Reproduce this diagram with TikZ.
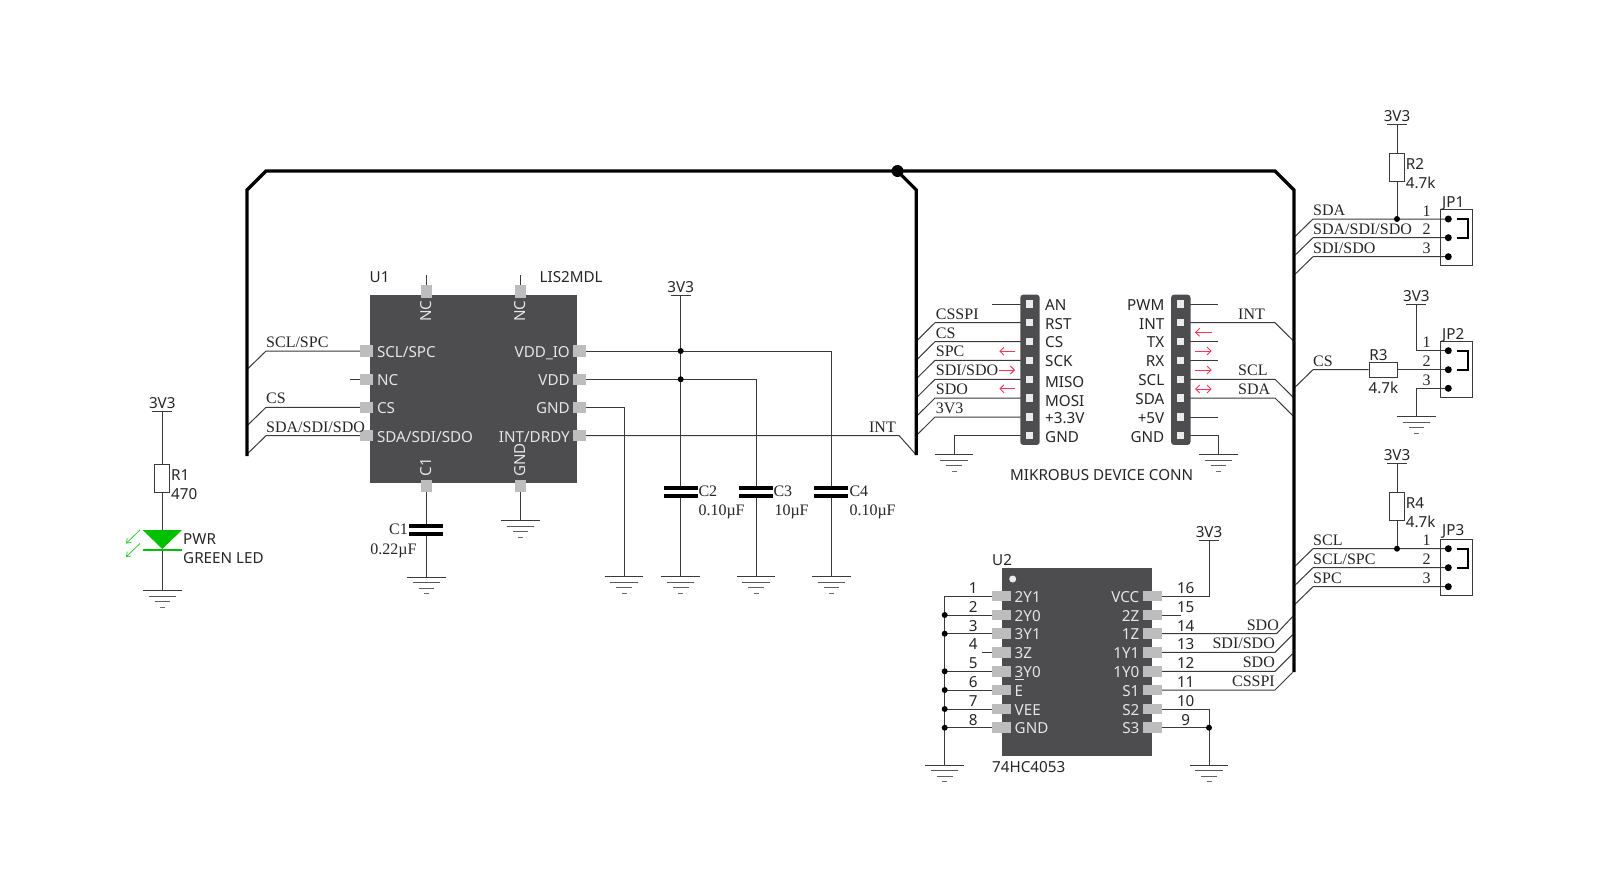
\documentclass[tikz,border=0pt]{standalone}
\usepackage{fontspec}
\setmainfont{Noto Sans}
\newfontfamily\serfont{Liberation Serif}
\usetikzlibrary{arrows.meta,backgrounds}
\definecolor{chipc}{HTML}{4D4D4F}
\definecolor{pinc}{HTML}{BDBDBD}
\definecolor{wirec}{HTML}{3A3A3A}
\definecolor{redc}{HTML}{FF3355}
\definecolor{ledc}{HTML}{00C000}
\tikzset{
  wire/.style={draw=wirec,line width=1pt},
  bus/.style={draw=black,line width=3.2pt,line join=miter},
  chip/.style={fill=chipc,draw=none,inner sep=0pt,rectangle},
  vpin/.style={fill=pinc,draw=none,minimum width=11pt,minimum height=12.8pt,inner sep=0pt},
  hpin/.style={fill=pinc,draw=none,minimum width=13pt,minimum height=11.5pt,inner sep=0pt},
  u2pin/.style={fill=pinc,draw=none,minimum width=18.4pt,minimum height=10.5pt,inner sep=0pt},
  sans/.style={inner sep=0pt,text=black!85,font=\fontsize{15.2}{15.2}\selectfont},
  ins/.style={inner sep=0pt,text=white!90!black,font=\fontsize{15.2}{15.2}\selectfont},
  ser/.style={inner sep=0pt,text=black!85,anchor=base west,font=\serfont\fontsize{16}{16}\selectfont},
  jdot/.style={circle,fill=black,inner sep=0pt,minimum size=7pt},
  sdot/.style={circle,fill=black,inner sep=0pt,minimum size=6pt},
  resv/.style={draw=wirec,fill=white,line width=1pt,minimum width=15pt,minimum height=28pt,inner sep=0pt},
  resh/.style={draw=wirec,fill=white,line width=1pt,minimum width=28pt,minimum height=15pt,inner sep=0pt},
  jbox/.style={draw=wirec,line width=1pt,minimum width=32pt,minimum height=56pt,inner sep=0pt},
  hdr/.style={fill=chipc,rounded corners=3pt,minimum width=19.4pt,minimum height=150.3pt,inner sep=0pt},
  pad/.style={fill=white!92!black,minimum size=7.5pt,inner sep=0pt},
  redarr/.style={draw=redc,line width=0.9pt},
  plate/.style={draw=black,line width=3.8pt},
  gnd/.pic={
    \draw[wire] (-19.3,0)--(19.3,0);
    \draw[wire,draw=wirec!85] (-13.6,5.7)--(13.6,5.7);
    \draw[wire,draw=wirec!80] (-7.8,11)--(7.8,11);
    \draw[wire,draw=wirec!75] (-2.5,16.7)--(2.5,16.7);
  },
  pwr/.pic={
    \draw[wire] (-10,0)--(10,0);
    \node[sans,anchor=base] (-lbl) at (0,-3) {3V3};
  },
}
\begin{document}
\begin{tikzpicture}[x=1pt,y=-1pt]
\useasboundingbox (0,0) rectangle (1599,871);

% ---------- U1
\node[chip,minimum width=206.7pt,minimum height=188pt] (u1) at (473.35,389) {};
\foreach \n/\x in {nca/426,ncb/520.5}{\node[vpin] (u1\n) at (\x,291.4) {};}
\foreach \n/\x in {ca/426.3,gn/520.5}{\node[vpin] (u1\n) at (\x,486) {};}
\foreach \n/\y in {scl/351,nc/379.3,cs/407.3,sda/435.7}{\node[hpin] (u1\n) at (366.5,\y) {};}
\foreach \n/\y in {io/351,vd/379.3,gd/407.3,it/435.7}{\node[hpin] (u1\n) at (579.5,\y) {};}
\node[ins,anchor=base west] at (376.8,357) {SCL/SPC};
\node[ins,anchor=base west] at (376.8,385.4) {NC};
\node[ins,anchor=base west] at (376.8,413.6) {CS};
\node[ins,anchor=base west] at (376.8,442) {SDA/SDI/SDO};
\node[ins,anchor=base east] at (570,357) {VDD\_IO};
\node[ins,anchor=base east] at (570,385.4) {VDD};
\node[ins,anchor=base east] at (570,413.6) {GND};
\node[ins,anchor=base east] at (570,442) {INT/DRDY};
\node[ins,rotate=90] at (426,311) {NC};
\node[ins,rotate=90] at (520.3,311) {NC};
\node[ins,rotate=90] at (426,467) {C1};
\node[ins,rotate=90] at (520.3,460) {GND};
\node[sans,anchor=base west] at (369.5,282.5) {U1};
\node[sans,anchor=base west] at (539.5,282.5) {LIS2MDL};

% ---------- caps
\coordinate (c1a) at (426.3,526);
\coordinate (c1b) at (426.3,534);
\foreach \n/\x in {2/680.7,3/756,4/831.3}{
  \coordinate (c\n a) at (\x,488.3);
  \coordinate (c\n b) at (\x,496);
}
\foreach \n in {1,2,3,4}{
  \draw[plate] ([xshift=-17pt]c\n a)--([xshift=17pt]c\n a);
  \draw[plate] ([xshift=-17pt]c\n b)--([xshift=17pt]c\n b);
}
\coordinate (gc1) at (426.3,577);
\coordinate (gu1) at (520.5,520.7);
\coordinate (grail) at (624,576.7);
\coordinate (gc2) at (680.7,576.7);
\coordinate (gc3) at (756,576.7);
\coordinate (gc4) at (831.3,576.7);
\coordinate (pc) at (680.7,295);
\node[sdot] (ja) at (680.7,351) {};
\node[sdot] (jb) at (680.7,379.3) {};
\foreach \g in {gc1,gu1,grail,gc2,gc3,gc4}{\pic at (\g) {gnd};}
\pic at (pc) {pwr};
\node[ser,anchor=base east] at (408,534.5) {C1};
\node[ser,anchor=base] at (393.5,554) {0.22µF};
\node[ser] at (698.3,496) {C2};
\node[ser] at (698.3,515.3) {0.10µF};
\node[ser] at (773.3,496) {C3};
\node[ser] at (774.3,515.3) {10µF};
\node[ser] at (849.3,496) {C4};
\node[ser] at (849.3,515.3) {0.10µF};

% ---------- buses
\coordinate (bl) at (247,456);
\coordinate (bcorner1) at (247,190);
\coordinate (btop1) at (266,171);
\node[circle,fill=black,minimum size=12pt,inner sep=0pt] (bj) at (897.5,171) {};
\coordinate (btop2) at (1275,171);
\coordinate (bcorner2) at (1294,190);
\coordinate (br) at (1294,672);
\coordinate (bmc) at (916.3,190);
\coordinate (bm) at (916.3,455);
\draw[bus] (bl)--(bcorner1)--(btop1)--(btop2)--(bcorner2)--(br);
\draw[bus] (bj.center)--(bmc)--(bm);

% ---------- mikroBUS
\node[hdr] (hl) at (1030,369.8) {};
\node[hdr] (hr) at (1180.8,369.8) {};
\foreach \i/\y in {1/304,2/322.7,3/341.7,4/360.3,5/379.3,6/398,7/417,8/435.7}{
  \node[pad] (hl\i) at (1029.7,\y) {};
  \node[pad] (hr\i) at (1180.7,\y) {};
}
\node[sans,anchor=base west] at (1045,310.3) {AN};
\node[sans,anchor=base west] at (1045,329) {RST};
\node[sans,anchor=base west] at (1045,347.7) {CS};
\node[sans,anchor=base west] at (1045,366.5) {SCK};
\node[sans,anchor=base west] at (1045,387) {MISO};
\node[sans,anchor=base west] at (1045,406) {MOSI};
\node[sans,anchor=base west] at (1045,423.5) {+3.3V};
\node[sans,anchor=base west] at (1045,442) {GND};
\node[sans,anchor=base east] at (1164.5,310.3) {PWM};
\node[sans,anchor=base east] at (1164.5,329) {INT};
\node[sans,anchor=base east] at (1164.5,347.7) {TX};
\node[sans,anchor=base east] at (1164.5,366.5) {RX};
\node[sans,anchor=base east] at (1164.5,385.5) {SCL};
\node[sans,anchor=base east] at (1164.5,404.5) {SDA};
\node[sans,anchor=base east] at (1164.5,423.5) {+5V};
\node[sans,anchor=base east] at (1164.5,442) {GND};
\node[sans] at (1101.7,474.8) {MIKROBUS DEVICE CONN};
\foreach \t/\y/\s in {CSSPI/319/2,CS/338/3,SPC/356.8/4,SDI\slash SDO/375.8/5,SDO/394.5/6,3V3/413.5/7}{
  \node[ser] at (935.7,\y) {\t};
}
\node[ser,anchor=base east] at (896,432) {INT};
\coordinate (gl) at (954,454.5);
\coordinate (gr) at (1218.3,454.7);
\pic at (gl) {gnd};
\pic at (gr) {gnd};
\coordinate (ra1) at (1015,351.2);
\coordinate (ra2) at (999.3,370);
\coordinate (ra3) at (1015,388.8);
\draw[redarr,-{Straight Barb[length=4pt,width=8pt]}] (ra1)--++(-15.7,0);
\draw[redarr,-{Straight Barb[length=4pt,width=8pt]}] (ra2)--++(15.7,0);
\draw[redarr,-{Straight Barb[length=4pt,width=8pt]}] (ra3)--++(-15.7,0);
\coordinate (rb1) at (1211.7,332.3);
\coordinate (rb2) at (1195,351);
\coordinate (rb3) at (1195,370);
\coordinate (rb4) at (1195,389);
\draw[redarr,-{Straight Barb[length=4pt,width=8pt]}] (rb1)--++(-16.7,0);
\draw[redarr,-{Straight Barb[length=4pt,width=8pt]}] (rb2)--++(16.7,0);
\draw[redarr,-{Straight Barb[length=4pt,width=8pt]}] (rb3)--++(16.7,0);
\draw[redarr,{Straight Barb[length=4pt,width=8pt]}-{Straight Barb[length=4pt,width=8pt]}] (rb4)--++(16.7,0);
\node[ser] at (1238,319) {INT};
\node[ser] at (1238,375.7) {SCL};
\node[ser] at (1238,394.5) {SDA};

% ---------- U2
\node[chip,minimum width=150.3pt,minimum height=188pt] (u2) at (1076.85,661.7) {};
\node[circle,fill=white!92!black,minimum size=7pt,inner sep=0pt] at (1012.7,579) {};
\foreach \i/\y/\t in {1/596/2Y1,2/615/2Y0,3/633.7/3Y1,4/652.3/3Z,5/671.3/3Y0,6/690/E,7/709/VEE,8/727.7/GND}{
  \node[u2pin] (ul\i) at (1001.5,\y) {};
  \node[ins,anchor=base west] at (1014.5,\y+6) {\t};
  \node[sans,anchor=base] at (973.3,\y-2.6) {\i};
}
\foreach \i/\y/\t in {16/596/VCC,15/615/2Z,14/633.7/1Z,13/652.3/1Y1,12/671.3/1Y0,11/690/S1,10/709/S2,9/727.7/S3}{
  \node[u2pin] (ur\i) at (1152.5,\y) {};
  \node[ins,anchor=base east] at (1139.5,\y+6) {\t};
  \node[sans,anchor=base] at (1185.7,\y-2.6) {\i};
}
\draw[white!90!black,line width=0.8pt] (1015,679.5)--(1024,679.5);
\node[sans,anchor=base west] at (992,565) {U2};
\node[sans,anchor=base west] at (992,772.5) {74HC4053};
\coordinate (p16) at (1209,540);
\pic at (p16) {pwr};
\coordinate (g8) at (944.7,765);
\coordinate (g9) at (1209,765);
\pic at (g8) {gnd};
\pic at (g9) {gnd};
\foreach \n/\y in {2/615,3/633.7,5/671.3,6/690,7/709,8/727.7}{\node[sdot] (jl\n) at (944.7,\y) {};}
\node[sdot] (jr9) at (1209,727.7) {};
\node[ser,anchor=base east] at (1279,630) {SDO};
\node[ser,anchor=base east] at (1275,648.7) {SDI/SDO};
\node[ser,anchor=base east] at (1275,667.5) {SDO};
\node[ser,anchor=base east] at (1275,686.3) {CSSPI};

% ---------- R1 / LED
\coordinate (p1) at (162.3,411.3);
\pic at (p1) {pwr};
\node[resv] (r1) at (162.3,478) {};
\node[sans,anchor=base west] at (171,480.5) {R1};
\node[sans,anchor=base west] at (171,499) {470};
\coordinate (ledtop) at (162.3,530);
\coordinate (ledbar) at (162.3,550);
\coordinate (g1) at (162.3,590.3);
\pic at (g1) {gnd};
\fill[ledc] (142.7,530)--(182,530)--(162.3,549)--cycle;
\draw[ledc,line width=2.8pt] (142.7,550)--(182,550);
\draw[ledc!80!white,line width=0.8pt,-{Straight Barb[length=4pt,width=6pt]}] (140,530)--(126,543.5);
\draw[ledc!80!white,line width=0.8pt,-{Straight Barb[length=4pt,width=6pt]}] (140,543.5)--(126,557);
\node[sans,anchor=base west] at (183,544) {PWR};
\node[sans,anchor=base west] at (183,563) {GREEN LED};

% ---------- JP blocks
\node[jbox] (jp1) at (1456.7,237.8) {};
\node[jbox] (jp2) at (1456.7,369.5) {};
\node[jbox] (jp3) at (1456.7,567.5) {};
\foreach \j/\a/\b/\c in {1/219/237.7/256.7,2/350.7/369.7/388.3,3/548.7/567.7/586.7}{
  \node[jdot] (jp\j a) at (1448.3,\a) {};
  \node[jdot] (jp\j b) at (1448.3,\b) {};
  \node[jdot] (jp\j c) at (1448.3,\c) {};
  \node[ser,anchor=base] at (1426.5,\a-3) {1};
  \node[ser,anchor=base] at (1426.5,\b-3) {2};
  \node[ser,anchor=base] at (1426.5,\c-3) {3};
  \draw[black,line width=2.4pt] (1456.7,\a)--(1467.7,\a)--(1467.7,\b)--(1456.7,\b);
}
\node[sans,anchor=base west] at (1442,207) {JP1};
\node[sans,anchor=base west] at (1442,339) {JP2};
\node[sans,anchor=base west] at (1442,535.5) {JP3};
% R2 / R4 / R3
\coordinate (p2) at (1397,124.3);
\pic at (p2) {pwr};
\node[resv] (r2) at (1397,167.2) {};
\node[sans,anchor=base west] at (1405.7,169.5) {R2};
\node[sans,anchor=base west] at (1405.7,188.3) {4.7k};
\node[sdot] (j2) at (1397,219) {};
\coordinate (p3) at (1416.3,304);
\pic at (p3) {pwr};
\node[resh] (r3) at (1383.2,369.7) {};
\node[sans,anchor=base] at (1378.5,360.3) {R3};
\node[sans,anchor=base] at (1383.5,393.5) {4.7k};
\coordinate (g3) at (1416.3,416.7);
\pic at (g3) {gnd};
\coordinate (p4) at (1397,463.7);
\pic at (p4) {pwr};
\node[resv] (r4) at (1397,506.3) {};
\node[sans,anchor=base west] at (1405.7,508.2) {R4};
\node[sans,anchor=base west] at (1405.7,527.8) {4.7k};
\node[sdot] (j4) at (1397,548.7) {};
\node[ser] at (1313,215) {SDA};
\node[ser] at (1313,234) {SDA/SDI/SDO};
\node[ser] at (1313,253) {SDI/SDO};
\node[ser] at (1313,366) {CS};
\node[ser] at (1313,545) {SCL};
\node[ser] at (1313,564) {SCL/SPC};
\node[ser] at (1313,583) {SPC};
\node[ser] at (266,347.5) {SCL/SPC};
\node[ser] at (266,403.7) {CS};
\node[ser] at (266,432) {SDA/SDI/SDO};

% ---------- wires, under the shapes
\begin{pgfonlayer}{background}
\fill[white] (0,0) rectangle (1599,871);
\foreach \p/\y in {scl/369.5,cs/425.8,sda/454.2}{\draw[wire] (247,\y)--++(19,-18.5)--(u1\p.center);}
\draw[wire] (u1nc.center)--++(-16.5,0);
\draw[wire] (u1nca.center)--++(0,-16.4);
\draw[wire] (u1ncb.center)--++(0,-16.4);
\draw[wire] (u1ca.center)--(c1a);
\draw[wire] (c1b)--(gc1);
\draw[wire] (u1gn.center)--(gu1);
\draw[wire] (pc)--(ja.center)--(jb.center)--(c2a);
\draw[wire] (c2b)--(gc2);
\draw[wire] (u1io.center)-|(c4a);
\draw[wire] (c4b)--(gc4);
\draw[wire] (u1vd.center)-|(c3a);
\draw[wire] (c3b)--(gc3);
\draw[wire] (u1gd.center)-|(grail);
\draw[wire] (u1it.center)--++(319.7,0)--(bm);
% mikroBUS left
\draw[wire] (hl1.center)--++(-38,0);
\foreach \i/\y in {2/341.3,3/360.3,4/378.9,5/397.9,6/416.6,7/435.6}{\draw[wire] (916.3,\y)--++(18.7,-18.6)--(hl\i.center);}
\draw[wire] (hl8.center)-|(gl);
% mikroBUS right
\foreach \i in {1,3,4,7}{\draw[wire] (hr\i.center)--++(37.6,0);}
\draw[wire] (hr8.center)-|(gr);
\draw[wire] (hr2.center)--++(94.3,0)--++(18.5,18.3);
\draw[wire] (hr5.center)--++(94.3,0)--++(18.5,18.3);
\draw[wire] (hr6.center)--++(94.3,0)--++(18.5,18.3);
% U2
\draw[wire] (g8)--(944.7,596)--(ul1.center);
\foreach \n in {2,3,5,6,7,8}{\draw[wire] (ul\n.center)--(jl\n.center);}
\draw[wire] (ul4.center)--++(-19.8,0);
\draw[wire] (ur16.center)-|(p16);
\draw[wire] (ur15.center)--++(28.5,0);
\draw[wire] (ur14.center)--++(124,0)--++(16.5,-17.5);
\draw[wire] (ur13.center)--++(122.5,0)--++(17.5,-17.5);
\draw[wire] (ur12.center)--++(122.5,0)--++(17.5,-17.5);
\draw[wire] (ur11.center)--++(122.5,0)--++(17.5,-17.5);
\draw[wire] (ur10.center)-|(g9);
\draw[wire] (ur9.center)--(jr9.center);
% R1 / LED
\draw[wire] (p1)--(r1.north);
\draw[wire] (r1.south)--(ledtop);
\draw[wire] (ledbar)--(g1);
% JP
\draw[wire] (p2)--(r2.north);
\draw[wire] (r2.south)--(j2.center);
\draw[wire] (p4)--(r4.north);
\draw[wire] (r4.south)--(j4.center);
\draw[wire] (1294,237.5)--++(19,-18.5)--(jp1a.center);
\draw[wire] (1294,256.2)--++(19,-18.5)--(jp1b.center);
\draw[wire] (1294,275.2)--++(19,-18.5)--(jp1c.center);
\draw[wire] (p3)|-(jp2a.center);
\draw[wire] (jp2c.center)-|(g3);
\draw[wire] (1294,388.2)--++(19,-18.5)--(r3.west);
\draw[wire] (r3.east)--(jp2b.center);
\draw[wire] (1294,567.2)--++(19,-18.5)--(jp3a.center);
\draw[wire] (1294,586.2)--++(19,-18.5)--(jp3b.center);
\draw[wire] (1294,605.2)--++(19,-18.5)--(jp3c.center);
\end{pgfonlayer}
\end{tikzpicture}
\end{document}
